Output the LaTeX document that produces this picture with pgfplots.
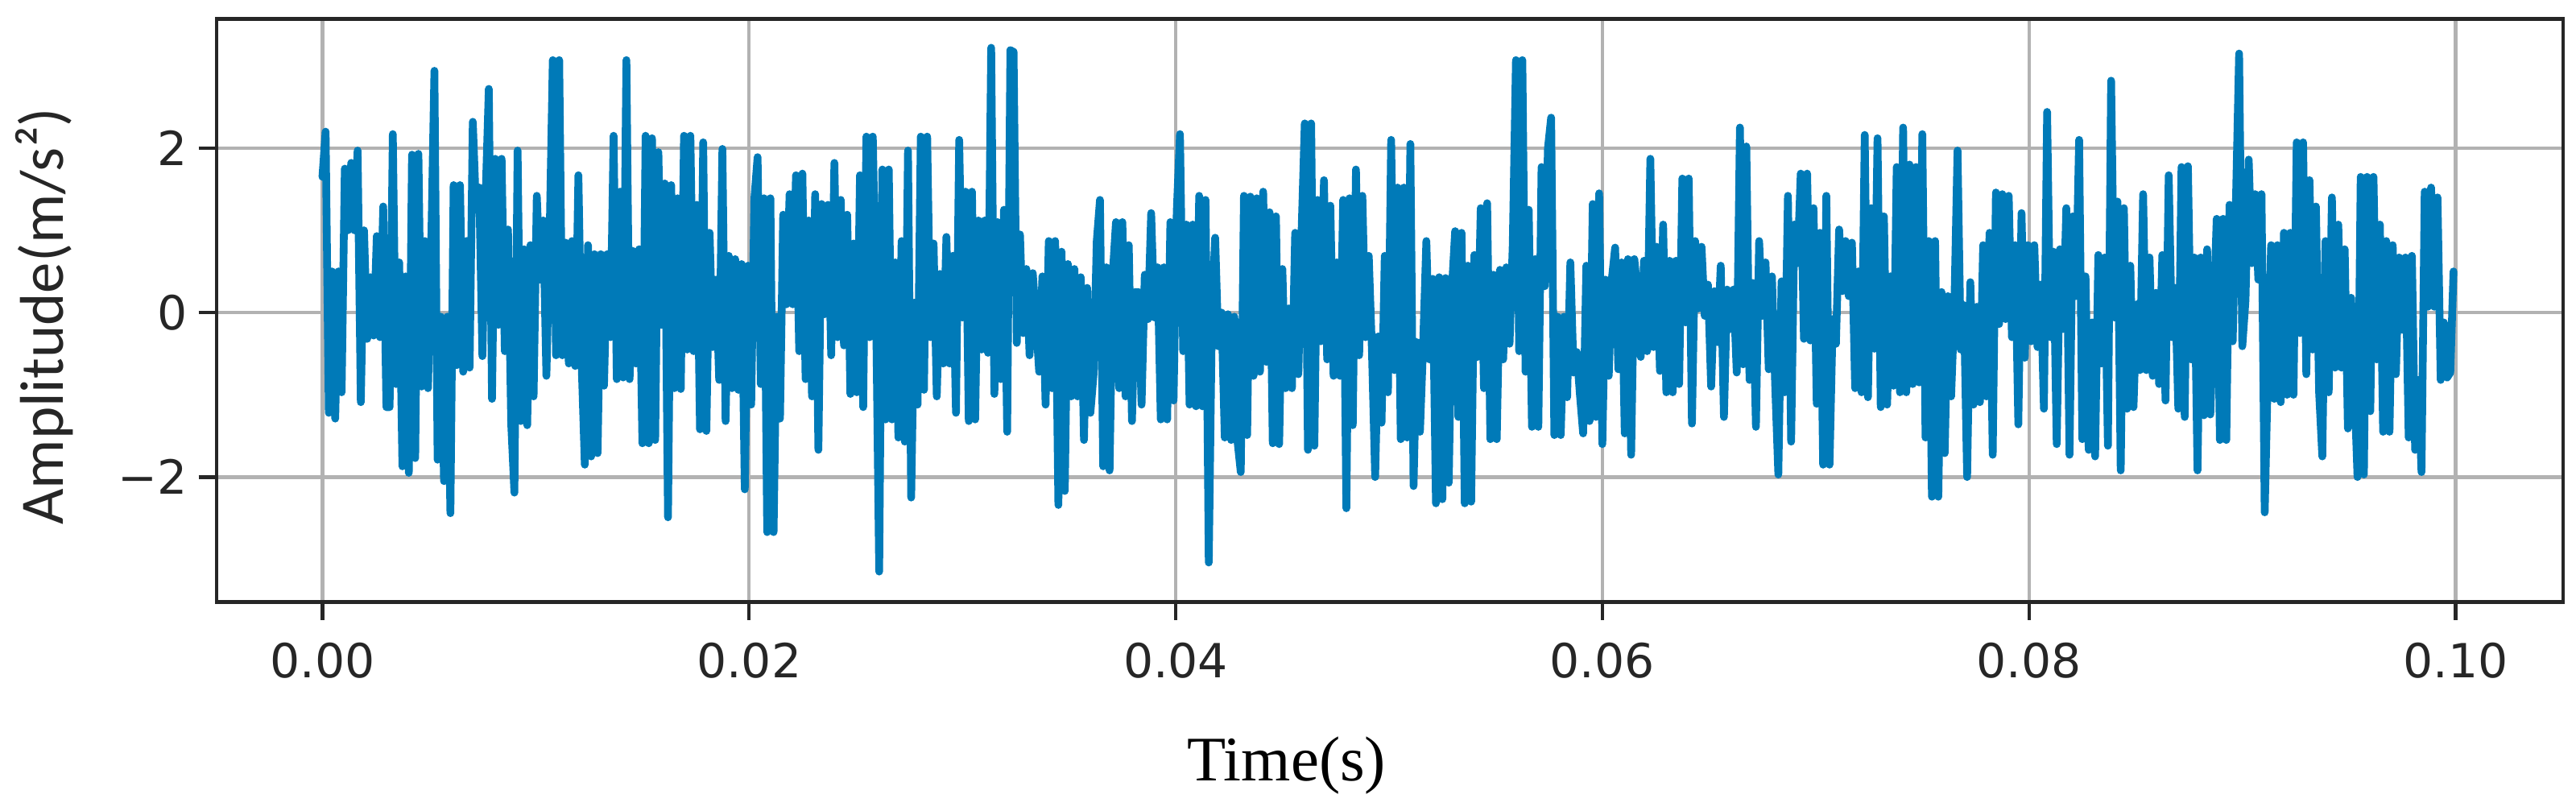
\documentclass[border=0pt]{standalone}
\usepackage{fontspec}
\setmainfont{DejaVu Sans}
\newfontfamily\carl{Carlito}
\newfontfamily\libs{Liberation Serif}
\usepackage{pgfplots}
\pgfplotsset{compat=1.18}
\usepackage{pgfplotstable}
\definecolor{sig}{HTML}{007AB8}
\definecolor{tk}{HTML}{262626}
\pgfplotstableread[header=false]{
1.65
2.2
-1.22
.5
-1.29
.5
-.97
1.75
1.0
1.82
1.0
1.97
-1.09
1.0
-.32
.43
-.28
.93
-.3
1.29
-1.15
-1.15
2.17
-.87
.61
-1.87
.44
-1.95
1.92
-1.77
1.93
-.9
.87
-.92
.8
2.94
-1.79
-.05
-2.05
-.05
-2.44
1.55
-.64
1.55
-.72
.87
-.67
2.32
1.25
1.52
-.53
1.4
2.72
-1.05
1.87
-.15
1.87
-.47
1.01
-1.35
-2.19
1.97
-1.32
.77
-1.37
.82
-1.02
1.42
.4
1.12
-.77
.92
3.07
-.52
3.07
-.52
.85
-.62
.87
-.65
1.67
-.6
-1.85
.82
-1.75
.71
-1.71
.71
-.89
.71
-.3
2.15
-.81
1.47
-.79
3.07
-.81
.75
-.62
.77
-1.59
2.15
-1.59
2.12
-1.55
1.95
-.15
1.57
-2.49
1.55
-.92
1.39
-.93
2.15
-.45
2.15
-.47
1.31
-1.42
2.07
-1.44
.97
-.42
.4
-.82
1.99
-1.32
.69
-.92
.65
-.94
.59
-2.15
.57
-1.12
1.39
1.89
-.87
1.39
-2.67
1.39
-2.67
-.05
-1.29
1.19
.1
1.44
.1
1.67
-.47
1.69
-.81
1.12
-1.02
1.44
-1.67
1.32
-.02
1.31
-.52
1.82
-.3
1.37
-.4
1.19
-.99
.84
-.97
1.67
-1.15
2.14
-.3
2.14
.13
-3.15
1.74
-1.3
1.74
-1.3
.61
-1.52
.87
-1.57
1.97
-2.25
.12
-1.12
2.14
-.94
2.14
-.3
.84
-1.02
.47
-.62
.92
-.62
.69
-1.22
2.1
-.06
1.47
-1.32
1.47
-1.3
1.12
-.45
1.12
-.49
3.22
-.99
1.1
-.81
1.25
-1.45
3.19
3.17
-.37
.95
-.25
.53
-.52
.48
-.1
-.72
.44
-1.12
.87
-.92
.87
-2.34
.74
-2.17
.59
-1.02
.53
-1.02
.43
-1.55
.3
-1.22
-.75
.87
1.37
-1.87
.55
-1.92
.47
1.1
-.92
1.1
-1.02
.82
-1.32
.25
.25
-1.12
.46
-.08
1.21
-.06
.55
-1.3
.55
-1.3
1.1
-1.07
1.23
2.17
-.47
1.07
-1.12
1.07
-1.14
1.42
-1.14
1.37
-3.04
.02
.91
-.41
.0
-1.52
-.02
-1.55
-.05
-1.57
-1.94
1.42
-1.49
1.41
-.77
1.39
-.72
1.47
-.6
1.22
-1.59
1.17
-1.6
.53
-.92
.05
-.92
.97
-.75
.97
2.3
-1.67
2.3
-1.62
1.37
-.35
1.61
-.57
1.3
-.77
.61
-.77
1.37
-2.38
1.39
-1.37
1.74
-.52
1.42
-.3
.69
-.47
-2.0
-.29
-1.34
.69
-.97
2.1
-.7
1.52
-1.54
1.52
-1.52
2.05
-2.11
-.36
-1.45
-.38
.87
-.57
.41
-2.32
.43
-2.27
.42
-2.07
.3
.99
-1.27
.97
-2.32
.57
-2.3
.7
-.54
1.27
-.92
1.33
-1.54
.46
-1.54
.52
-.57
.55
-.38
.82
3.07
-.47
3.07
-.72
1.25
-1.39
.65
-1.39
1.77
.32
2.0
2.37
-1.49
-.05
-1.49
-.05
-1.03
.61
-.73
-.48
-1.0
-1.47
.57
-1.32
1.32
-1.27
1.45
-1.6
.4
-.77
.42
.79
-.69
.61
-1.47
.65
-1.73
.65
.24
-.54
.63
-.47
1.87
-.42
.8
-.71
1.07
-.97
.63
-.97
.63
-.87
1.63
-.12
1.63
-1.35
.87
.05
.8
-.04
.34
-.9
.26
-.36
.57
-1.27
.28
-.2
.28
-.73
2.25
-.63
2.02
-.82
.36
-1.39
.87
-.04
.61
-.69
.44
-.87
-1.97
.38
-.97
1.42
-1.57
1.07
.6
1.69
-.32
1.69
-.34
1.27
-1.11
.97
-1.85
1.42
-1.85
-.08
-.38
1.01
.26
.87
.2
.85
-.92
.5
-.97
2.16
-1.03
1.27
-.44
2.12
-1.15
1.17
-1.12
.44
-.89
1.77
-.97
2.25
-.97
1.8
-.87
1.77
-.85
2.17
-1.52
.87
-2.24
.87
-2.24
.25
-1.71
.2
-1.02
.05
1.97
-.45
.09
-2.0
.37
-1.12
.07
-1.09
.82
-1.02
.97
-1.73
1.46
-.14
1.44
-.08
1.42
-.3
.82
-1.36
1.21
-.55
.82
-.35
.82
-.42
.34
-1.17
2.44
-.3
.74
-1.6
.77
-.2
1.27
-1.73
1.17
.2
2.1
-1.54
.44
-1.67
-.12
-1.75
.7
-.62
.67
-1.62
2.82
-.06
1.35
-1.92
1.27
-1.17
.57
-1.15
.1
-.7
1.44
-.7
.67
-.77
.24
-.87
.7
-1.07
1.67
-.3
.3
-1.17
1.77
-1.27
1.78
-.57
.67
-1.92
.67
-1.25
.77
-1.24
-.04
1.14
-1.55
1.14
-1.55
1.31
-.35
1.33
3.15
-.41
.15
1.86
.6
1.44
.4
1.44
-2.43
-.7
.82
-1.05
.82
-1.09
.97
-1.0
.97
-1.0
2.07
-.25
2.07
-.75
1.61
-.45
1.29
-.97
-1.75
.87
-.97
1.4
-.67
1.07
-.67
.77
-1.41
.18
-.87
-2.0
1.65
-1.97
1.65
-1.2
1.65
-.57
1.07
-1.45
.87
-1.45
.82
-.75
.67
-.21
.67
-1.52
.69
-1.67
-.82
-1.94
1.47
.07
1.52
.07
1.4
-.82
-.12
-.79
-.73
.5
}\signaltable
\begin{document}
\begin{tikzpicture}
\useasboundingbox (-67.25pt,-64.65pt) rectangle (732.5pt,186.875pt);
\begin{axis}[
  scale only axis, width=728.5pt, height=181pt,
  xmin=-0.00496, xmax=0.10504, ymin=-3.52, ymax=3.57,
  xtick={0,0.02,0.04,0.06,0.08,0.1},
  xticklabels={0.00,0.02,0.04,0.06,0.08,0.10},
  ytick={-2,0,2},
  yticklabels={−2,0,2},
  tick align=outside, tick pos=left,
  major tick length=5.6pt,
  tick style={line width=1.1pt, color=tk, /pgfplots/major tick length=5.6pt},
  axis line style={line width=1.1pt, color=tk},
  grid=major,
  grid style={line width=1.1pt, color=black!30},
  ticklabel style={font=\fontsize{14.6}{17}\selectfont, text=tk},
  xticklabel style={yshift=-3.5pt},
  xlabel={\libs Time(s)},
  ylabel={\carl Amplitude(m/s²)},
  xlabel style={font=\fontsize{19.7}{23}\selectfont, text=black, at={(axis description cs:0.456,-0.281)}, anchor=center},
  ylabel style={font=\fontsize{19.2}{22}\selectfont, text=tk, at={(axis description cs:-0.0735,0.49)}, anchor=center, rotate=0},
]
\addplot[color=sig, line width=2.4pt, line join=round, line cap=round, no markers]
  table[x expr=\coordindex*0.00015, y index=0] {\signaltable};
\end{axis}
\end{tikzpicture}
\end{document}
